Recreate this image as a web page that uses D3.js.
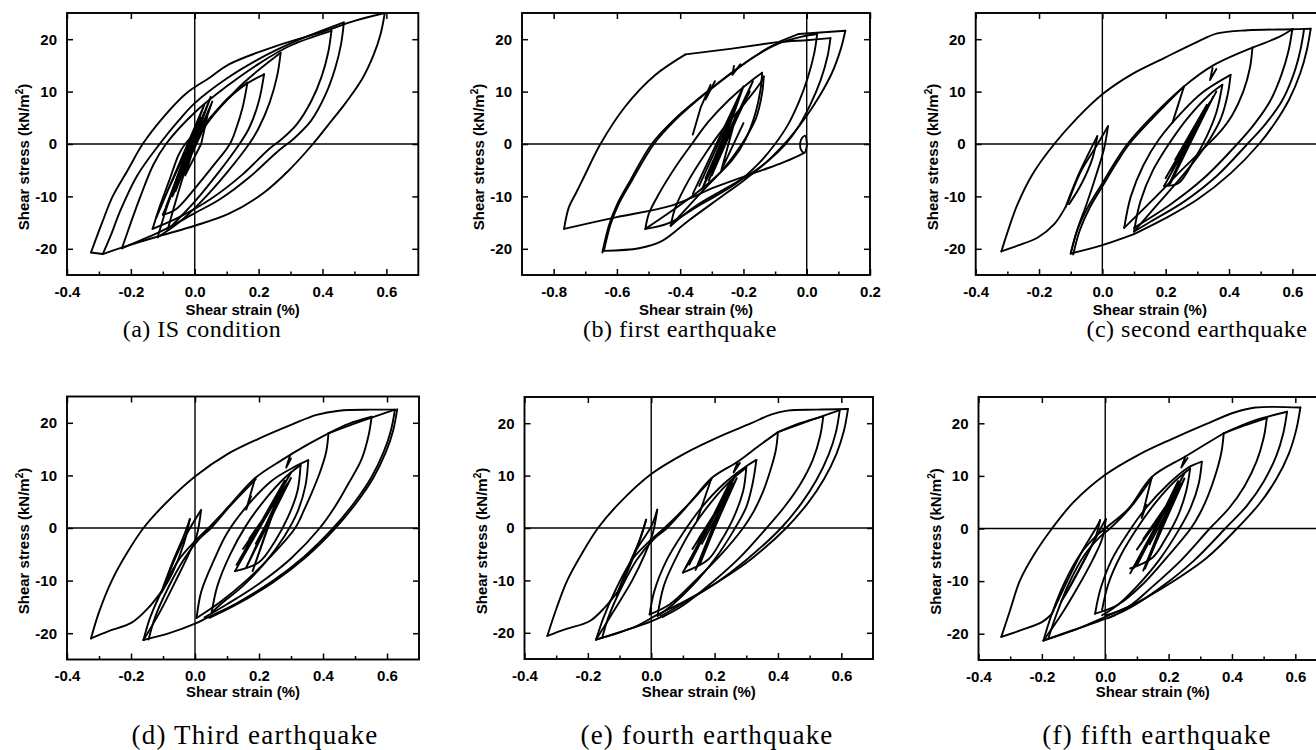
<!DOCTYPE html>
<html><head><meta charset="utf-8">
<script src="https://cdn.jsdelivr.net/npm/d3@7"></script>
<style>html,body{margin:0;padding:0;background:#fff}svg{display:block}</style>
</head><body>
<svg id="chart" width="1316" height="750"></svg>
<script>
// ---------- tick values & texts ----------
const xTicksStd = [-0.4, -0.2, 0, 0.2, 0.4, 0.6];
const xMinorStd = [-0.3, -0.1, 0.1, 0.3, 0.5];
const xTicksB = [-0.8, -0.6, -0.4, -0.2, 0, 0.2];
const xMinorB = [-0.7, -0.5, -0.3, -0.1, 0.1];
const yTicks = [-20, -10, 0, 10, 20];
const captions = ["(a) IS condition", "(b) first earthquake", "(c) second earthquake",
                  "(d) Third earthquake", "(e) fourth earthquake", "(f) fifth earthquake"];
const xLabel = "Shear strain (%)";
const yLabel = "Shear stress (kN/m";

// ---------- (a) IS condition : branches [strain %, stress kN/m2] ----------
const branchesA = [
 [[-0.325,-20.7],[-0.29,-15],[-0.257,-10],[-0.21,-5],[-0.163,0],[-0.1,5],[-0.028,9.6],[0.05,12.8],[0.107,15.2],[0.25,18.6],[0.41,21.6],[0.5,23.5],[0.595,25.0]],
 [[0.595,25.0],[0.582,21],[0.56,17],[0.525,12.5],[0.472,7.8],[0.42,3.8],[0.37,0],[0.295,-5],[0.212,-9.5],[0.107,-13.3],[0,-15.6],[-0.101,-17.4],[-0.205,-19.3],[-0.288,-21.0]],
 [[-0.288,-21.0],[-0.325,-20.7]],
 [[-0.288,-21.0],[-0.26,-17],[-0.235,-13],[-0.18,-6],[-0.11,0],[-0.05,4.5],[0,7.8],[0.1,12.5],[0.2,16.2],[0.3,19.2],[0.38,21.2],[0.467,23.2]],
 [[0.467,23.2],[0.458,19],[0.44,14.5],[0.41,9.5],[0.365,4.5],[0.31,1],[0.264,-1.2],[0.17,-6.4],[0.08,-10.5],[0,-13.2],[-0.1,-16.5],[-0.228,-19.9]],
 [[-0.228,-19.9],[-0.2,-15],[-0.17,-10],[-0.13,-4],[-0.09,0],[0,6],[0.1,11],[0.2,15.3],[0.3,18.8],[0.428,21.6]],
 [[0.428,21.6],[0.418,17.5],[0.398,13],[0.365,8.2],[0.32,3.8],[0.27,0.8],[0.232,-1],[0.15,-5.8],[0.05,-10.5],[-0.05,-14],[-0.132,-16.2]],
 [[-0.132,-16.2],[-0.11,-12],[-0.08,-7],[-0.05,-2],[-0.03,0],[0.05,5],[0.15,11.5],[0.269,17.4]],
 [[0.269,17.4],[0.258,13],[0.235,8],[0.2,3],[0.17,0],[0.1,-5.5],[0.02,-11],[-0.05,-15],[-0.116,-17.8]],
 [[-0.116,-17.8],[-0.095,-13.5],[-0.07,-9],[-0.04,-4],[0,1],[0.07,6.5],[0.15,11],[0.217,13.3]],
 [[0.217,13.3],[0.2,8],[0.17,3],[0.14,0],[0.08,-5],[0,-11],[-0.085,-16.4]],
 [[-0.085,-16.4],[-0.06,-11],[-0.03,-5],[0,0],[0.04,4],[0.1,8.5],[0.165,11.7]],
 [[0.165,11.7],[0.15,7],[0.13,3],[0.11,0],[0.06,-4],[0,-8.5],[-0.06,-12.5],[-0.1,-13.5]]
];
const zigsA = [
 [[-0.1,-13.5],[0.055,8.1],[0.02,2],[-0.07,-10],[0.03,6],[0.0,0],[-0.05,-7],[0.04,5.5],[0.02,0],[-0.03,-6],[0.02,4],[-0.02,-3],[0.01,2]],
 [[-0.12,-14],[0.03,7.5],[-0.09,-12],[0.05,9],[-0.06,-9],[0.02,5],[-0.1,-11],[0.0,3],[-0.04,-5],[0.035,6.5]]
];

// ---------- (b) first earthquake ----------
const branchesB = [
 [[0.0,0.3],[-0.005,1.6],[-0.018,0.8],[-0.02,-0.8],[-0.008,-1.7],[0.0,-0.5],[0.0,0.3]],
 [[-0.008,-1.7],[-0.025,-2.2],[-0.078,-3.6],[-0.141,-5.0],[-0.288,-8.2],[-0.425,-11.7],[-0.604,-14.0],[-0.767,-16.2]],
 [[-0.767,-16.2],[-0.752,-12.1],[-0.728,-9.2],[-0.705,-6.4],[-0.652,0],[-0.573,7.2],[-0.478,13.2],[-0.383,17.1]],
 [[0.122,21.6],[0.108,18.2],[0.08,13.6],[0.04,9.1],[0.0,5.4],[-0.04,2.2],[-0.08,-0.6],[-0.13,-3.6],[-0.2,-7],[-0.28,-10.5],[-0.373,-14.6],[-0.46,-18.6],[-0.53,-19.9],[-0.641,-20.4]],
 [[-0.641,-20.4],[-0.62,-15.3],[-0.594,-11.4],[-0.552,-6.9],[-0.483,0],[-0.415,4.6],[-0.331,9.1],[-0.236,13.6],[-0.162,16.8],[-0.088,19.2],[-0.015,20.5],[0.033,21.0]],
 [[-0.646,-20.7],[-0.625,-15.5],[-0.6,-11.6],[-0.558,-7],[-0.49,0],[-0.42,4.6],[-0.335,9.0],[-0.24,13.5],[-0.165,16.7],[-0.088,19.3],[0.0,19.8],[0.075,20.2]],
 [[0.033,21.0],[0.024,17.4],[0.004,12.8],[-0.025,8],[-0.06,3.6],[-0.1,0],[-0.15,-3.6],[-0.225,-7.6],[-0.331,-11.4],[-0.436,-15.1],[-0.51,-16.2]],
 [[0.075,20.2],[0.066,16.8],[0.044,12.2],[0.012,7.6],[-0.025,3.4],[-0.067,0],[-0.12,-3.1],[-0.183,-5.9],[-0.26,-8.6],[-0.35,-11.8],[-0.43,-15.6]],
 [[-0.51,-16.2],[-0.499,-13.3],[-0.467,-9.5],[-0.415,-4.4],[-0.362,0.1],[-0.31,4.3],[-0.246,8.4],[-0.183,11.7],[-0.141,13.6]],
 [[-0.141,13.6],[-0.146,10.4],[-0.162,5.9],[-0.194,0.8],[-0.236,-3.1],[-0.288,-6.3],[-0.352,-9.5],[-0.425,-12.7],[-0.51,-16.2]],
 [[-0.43,-15.6],[-0.415,-12.1],[-0.373,-6.9],[-0.32,-1.8],[-0.267,2.7],[-0.204,7.2],[-0.146,11.7],[-0.136,12.9]],
 [[-0.136,12.9],[-0.141,9.7],[-0.16,5],[-0.204,0.1],[-0.26,-4.5],[-0.33,-9],[-0.43,-15.6]]
];
const zigsB = [
 [[-0.383,17.1],[-0.236,18.2],[-0.088,19.5],[-0.025,21],[0.122,21.6]],
 [[-0.36,-9.5],[-0.2,11],[-0.3,-6],[-0.17,12],[-0.33,-8.5],[-0.24,5],[-0.29,-3],[-0.19,9],[-0.31,-7],[-0.22,6],[-0.27,-5],[-0.2,4]],
 [[-0.34,-8],[-0.22,8],[-0.3,-4.5],[-0.18,10],[-0.32,-6.5],[-0.25,3]],
 [[-0.36,1.8],[-0.335,7],[-0.304,11.3],[-0.32,8.5],[-0.29,12]],
 [[-0.23,14.9],[-0.235,13.2],[-0.21,15.2]]
];

// ---------- (c) second earthquake ----------
const branchesC = [
 [[-0.319,-20.5],[-0.295,-16],[-0.268,-11.5],[-0.221,-5.8],[-0.152,0],[-0.079,5.0],[0,9.5],[0.09,13.2],[0.195,16.4],[0.3,19.5],[0.363,21.1],[0.458,21.7],[0.6,21.9],[0.658,22.0]],
 [[-0.319,-20.5],[-0.268,-19.4],[-0.205,-17.9],[-0.152,-15.3],[-0.116,-12.0]],
 [[-0.116,-12.0],[-0.08,-6.5],[-0.045,-2],[-0.016,1.5]],
 [[-0.016,1.5],[-0.03,-2.5],[-0.065,-7.5],[-0.105,-11.5]],
 [[-0.11,-11.5],[-0.07,-5.5],[-0.02,-0.5],[0.018,3.4]],
 [[0.018,3.4],[0.005,-1],[-0.02,-6],[-0.05,-11.5],[-0.08,-16.5],[-0.1,-20.9]],
 [[-0.1,-20.9],[-0.08,-16.6],[-0.047,-12.2],[0,-7.5],[0.04,-3.5],[0.079,0],[0.153,5],[0.258,11],[0.35,15],[0.474,18.4]],
 [[-0.092,-21.1],[-0.072,-16.6],[-0.04,-12.2],[0.006,-7.5],[0.046,-3.5],[0.085,0],[0.16,5],[0.258,11]],
 [[0.474,18.4],[0.56,20.5],[0.6,21.9]],
 [[0.658,22],[0.646,18],[0.625,13.5],[0.59,8.5],[0.545,4],[0.495,0],[0.405,-5.6],[0.3,-10.6],[0.195,-14.3],[0.1,-17.2]],
 [[0.637,21.9],[0.625,17.8],[0.604,13.3],[0.567,8.2],[0.515,3.8],[0.458,0],[0.363,-6],[0.258,-11],[0.153,-14.8],[0.1,-16.7]],
 [[0.6,21.9],[0.588,17.8],[0.566,13.3],[0.53,8.2],[0.48,3.8],[0.426,0],[0.321,-6.5],[0.216,-11.5],[0.1,-16]],
 [[-0.1,-20.9],[0,-19.3],[0.1,-17.2]],
 [[0.474,18.4],[0.466,14.5],[0.445,10],[0.41,5.5],[0.37,2.2],[0.321,-0.8],[0.25,-5],[0.17,-10],[0.069,-16]],
 [[0.069,-16],[0.09,-10],[0.13,-4],[0.18,1],[0.25,6],[0.32,10],[0.405,13.2]],
 [[0.405,13.2],[0.396,9.5],[0.375,5],[0.345,1.5],[0.3,-2.5],[0.24,-7],[0.17,-11.8],[0.1,-16.7]],
 [[0.1,-16.7],[0.12,-11],[0.16,-5],[0.21,0],[0.27,5],[0.34,9.5],[0.379,11.3]],
 [[0.379,11.3],[0.36,6],[0.33,1.5],[0.29,-3],[0.24,-7.5],[0.195,-8]]
];
const zigsC = [
 [[0.195,-8],[0.36,10],[0.22,-5],[0.34,8],[0.21,-7.8],[0.3,4],[0.23,-3],[0.33,7.5],[0.25,-1],[0.3,3.5]],
 [[0.2,-6.5],[0.32,6],[0.215,-7.5],[0.35,9],[0.24,-4]],
 [[0.258,11.0],[0.221,4.0],[0.24,7.5]],
 [[0.348,14.5],[0.34,12.2],[0.36,14.3]]
];

// ---------- (d) Third earthquake ----------
const branchesD = [
 [[-0.325,-21.0],[-0.3,-16],[-0.26,-10],[-0.215,-5],[-0.161,0],[-0.09,4.8],[0,9.8],[0.1,14],[0.2,17],[0.3,19.6],[0.38,21.5],[0.45,22.3],[0.55,22.5],[0.625,22.5]],
 [[-0.325,-21.0],[-0.27,-19.6],[-0.198,-18.0],[-0.146,-15.2],[-0.104,-12.0]],
 [[-0.104,-12.0],[-0.07,-6.5],[-0.035,-1.5],[-0.016,1.7]],
 [[-0.016,1.7],[-0.035,-3],[-0.07,-8.5],[-0.105,-12.3]],
 [[-0.1,-11.5],[-0.06,-5.5],[-0.02,-0.5],[0.019,3.4]],
 [[0.019,3.4],[0.005,-1.5],[-0.02,-5],[-0.06,-10],[-0.11,-16],[-0.161,-21.3]],
 [[-0.161,-21.3],[-0.14,-17],[-0.1,-11.5],[-0.05,-6],[0,-2.5],[0.042,0],[0.104,4.0],[0.188,9.5],[0.271,12.9],[0.35,15.8],[0.417,18.0]],
 [[-0.145,-21.2],[-0.125,-17],[-0.085,-11.5],[-0.035,-6],[0.01,-2.3],[0.05,0],[0.11,4.2],[0.19,9.3]],
 [[0.417,18.0],[0.52,20.3],[0.625,22.5]],
 [[0.417,18.0],[0.48,19.8],[0.552,21.15]],
 [[0.625,22.5],[0.612,18.5],[0.59,14.5],[0.55,9.5],[0.5,5],[0.432,0],[0.34,-5.5],[0.24,-10.2],[0.13,-14.3],[0.04,-17],[0,-18.2],[-0.08,-20],[-0.161,-21.3]],
 [[0.632,22.6],[0.619,18.5],[0.597,14.5],[0.557,9.5],[0.507,5],[0.439,0],[0.347,-5.5],[0.247,-10.2],[0.137,-14.3],[0.045,-17.1]],
 [[0.552,21.15],[0.542,17.5],[0.52,13],[0.48,8.5],[0.44,4.3],[0.39,0],[0.3,-5.8],[0.2,-10.6],[0.1,-14.5],[0.03,-17]],
 [[0.417,18],[0.41,14.5],[0.39,10.5],[0.36,6],[0.34,3.3],[0.313,0],[0.24,-5.2],[0.16,-10],[0.08,-14],[0.005,-17.1]],
 [[0.005,-17.1],[0.02,-12],[0.06,-6],[0.1,-1],[0.16,4],[0.24,9],[0.307,11.5],[0.354,12.9]],
 [[0.354,12.9],[0.345,8],[0.32,3],[0.28,-1.5],[0.22,-6.5],[0.15,-11],[0.08,-14.5],[0.052,-16.1]],
 [[0.052,-16.1],[0.07,-11],[0.11,-5],[0.16,0.5],[0.22,5.5],[0.28,9.5],[0.33,12]],
 [[0.33,12],[0.32,7],[0.29,2],[0.25,-2.5],[0.2,-6.5],[0.125,-8.2]]
];
const zigsD = [
 [[0.125,-8.2],[0.3,10.5],[0.14,-6],[0.28,9],[0.18,-8.2],[0.26,6],[0.15,-4],[0.29,8.5],[0.17,-2],[0.24,4]],
 [[0.13,-7],[0.27,7],[0.16,-7.5],[0.3,9.5],[0.19,-3]],
 [[0.188,9.5],[0.16,3.5],[0.175,6]],
 [[0.297,13.8],[0.285,11.5],[0.3,13.2]]
];

// ---------- (e) fourth earthquake ----------
const branchesE = [
 [[-0.328,-20.6],[-0.3,-15.5],[-0.265,-10],[-0.22,-5],[-0.168,0],[-0.1,4.8],[0,10.3],[0.105,14.2],[0.21,17.3],[0.316,20],[0.38,21.7],[0.43,22.4],[0.52,22.6],[0.621,22.7]],
 [[-0.328,-20.6],[-0.27,-19.3],[-0.195,-17.8],[-0.147,-15.2],[-0.105,-12.1]],
 [[-0.105,-12.1],[-0.07,-7],[-0.035,-2],[-0.016,1.6]],
 [[-0.016,1.6],[-0.04,-3],[-0.08,-9],[-0.11,-12.8]],
 [[-0.1,-11.5],[-0.05,-4.5],[0.0,0.3],[0.019,3.5]],
 [[0.019,3.5],[0.005,-1],[-0.02,-5],[-0.06,-10],[-0.12,-16],[-0.174,-21.3]],
 [[-0.174,-21.3],[-0.15,-17],[-0.11,-11.5],[-0.06,-6],[0,-2.2],[0.042,0],[0.126,5.1],[0.19,9.5],[0.274,12.7],[0.34,15.7],[0.4,18.3]],
 [[-0.155,-21.0],[-0.135,-17],[-0.095,-11.5],[-0.045,-6],[0.01,-2],[0.05,0],[0.13,5.3],[0.19,9.3]],
 [[0.4,18.3],[0.5,20.5],[0.595,22.5]],
 [[0.621,22.7],[0.608,18.5],[0.585,14.2],[0.545,9.3],[0.495,4.8],[0.426,0],[0.316,-5.9],[0.21,-10.3],[0.105,-14],[0.021,-16.5],[-0.05,-18.8],[-0.174,-21.3]],
 [[0.595,22.5],[0.583,18.3],[0.56,14],[0.522,9.2],[0.474,4.7],[0.41,0],[0.3,-6.1],[0.2,-10.7],[0.1,-14.4],[0.03,-16.8]],
 [[0.4,18.3],[0.47,20],[0.543,21.3]],
 [[0.543,21.3],[0.533,17.5],[0.51,13],[0.47,8.3],[0.42,4],[0.364,0],[0.28,-5.6],[0.19,-10.5],[0.1,-14.8],[0.035,-17]],
 [[-0.174,-21.3],[-0.08,-19.5],[0,-17.8],[0.03,-17]],
 [[0.4,18.3],[0.393,14.8],[0.375,10.8],[0.35,6.5],[0.322,3],[0.29,0],[0.22,-5.1],[0.14,-10],[0.06,-14.5],[-0.005,-16.5]],
 [[-0.005,-16.5],[0.01,-12],[0.05,-6],[0.1,-1],[0.16,4],[0.23,8.5],[0.3,11.8],[0.332,13]],
 [[0.332,13],[0.32,8.5],[0.3,4],[0.26,-0.5],[0.2,-6],[0.13,-11],[0.07,-14.5],[0.02,-16.8]],
 [[0.02,-16.8],[0.04,-11],[0.08,-5.5],[0.13,0],[0.19,5],[0.25,9],[0.3,11.5]],
 [[0.3,11.5],[0.29,7],[0.26,2],[0.22,-2.5],[0.18,-6],[0.1,-8.5]]
];
const zigsE = [
 [[0.1,-8.5],[0.27,10.5],[0.12,-7],[0.25,9],[0.153,-7],[0.24,6],[0.13,-4],[0.26,8.5],[0.15,-2],[0.22,4]],
 [[0.11,-7.5],[0.24,7],[0.14,-8],[0.27,9.5],[0.16,-3]],
 [[0.19,9.5],[0.145,1.5],[0.165,5]],
 [[0.274,12.7],[0.26,10.6],[0.28,12.4]]
];

// ---------- (f) fifth earthquake ----------
const branchesF = [
 [[-0.328,-20.6],[-0.3,-15.5],[-0.27,-10],[-0.225,-5],[-0.168,0],[-0.1,5],[0,10.2],[0.105,14],[0.21,17],[0.316,19.8],[0.41,22.1],[0.474,23.0],[0.616,23.0]],
 [[-0.328,-20.6],[-0.27,-19.4],[-0.2,-17.8],[-0.168,-16.2]],
 [[-0.168,-16.2],[-0.12,-10],[-0.07,-4],[-0.03,0],[-0.016,1.6]],
 [[-0.016,1.6],[-0.03,-1.5],[-0.07,-6.5],[-0.11,-11],[-0.14,-14]],
 [[-0.13,-13],[-0.08,-7.5],[-0.04,-3],[-0.01,0.5],[0.002,1.8]],
 [[0.002,1.8],[-0.01,-2],[-0.04,-6],[-0.09,-11.5],[-0.14,-16.5],[-0.195,-21.3]],
 [[-0.195,-21.3],[-0.17,-16.5],[-0.13,-10.5],[-0.08,-5],[-0.03,-1.5],[0,0],[0.074,3.8],[0.147,9.8],[0.253,13.7],[0.374,18.1]],
 [[-0.18,-21.0],[-0.155,-16.5],[-0.115,-10.5],[-0.065,-5],[-0.015,-1.5],[0.015,0],[0.08,4],[0.147,9.6]],
 [[0.374,18.1],[0.47,20.5],[0.574,22.2]],
 [[0.374,18.1],[0.44,19.6],[0.51,21]],
 [[0.616,23],[0.603,18.8],[0.58,14.3],[0.54,9.4],[0.488,4.8],[0.416,0],[0.32,-5.6],[0.2,-10.6],[0.1,-14.1],[0,-16.8],[-0.08,-18.9],[-0.195,-21.3]],
 [[0.574,22.2],[0.562,18.1],[0.54,13.8],[0.5,8.9],[0.448,4.4],[0.379,0],[0.28,-6.1],[0.18,-11],[0.08,-15],[0.01,-17]],
 [[0.51,21],[0.5,17.2],[0.478,12.8],[0.44,8.1],[0.39,3.8],[0.33,0],[0.24,-6],[0.15,-11],[0.07,-15],[0,-16.5]],
 [[-0.195,-21.3],[-0.1,-19.3],[0,-17.2],[0.03,-16.5]],
 [[0.374,18.1],[0.367,14.6],[0.35,10.6],[0.325,6.3],[0.3,3],[0.27,0],[0.2,-5.1],[0.12,-10.5],[0.04,-14.5],[-0.032,-16.2]],
 [[-0.032,-16.2],[-0.015,-11.5],[0.02,-6],[0.07,-1],[0.13,4],[0.2,8.5],[0.26,11.5],[0.305,12.7]],
 [[0.305,12.7],[0.295,8.5],[0.27,4],[0.23,-0.5],[0.17,-6],[0.1,-11],[0.04,-14.5],[-0.01,-16.5]],
 [[-0.01,-15.5],[0.01,-10.5],[0.05,-5],[0.1,0],[0.16,5],[0.22,9],[0.268,11.4]],
 [[0.268,11.4],[0.255,7],[0.23,2.5],[0.19,-2],[0.15,-5.5],[0.079,-7.6]]
];
const zigsF = [
 [[0.079,-8.5],[0.25,10.5],[0.1,-7],[0.23,9],[0.126,-7.6],[0.22,6],[0.1,-4],[0.24,8.5],[0.12,-2],[0.2,4]],
 [[0.09,-7.5],[0.22,7],[0.12,-8],[0.25,9.5],[0.14,-3]],
 [[0.147,9.8],[0.115,2],[0.13,4.5]],
 [[0.253,13.7],[0.24,11.6],[0.26,13.4]]
];

// ---------- layout ----------
const panels = [
 {left:67,    right:418.3, top:13,    bottom:275,   xDom:[-0.4,0.7], xt:xTicksStd, xm:xMinorStd, br:branchesA, zz:zigsA, cap:captions[0], capX:202,  capY:337, capF:24, lblY:315},
 {left:522,   right:870,   top:13,    bottom:275,   xDom:[-0.9,0.2], xt:xTicksB,   xm:xMinorB,   br:branchesB, zz:zigsB, cap:captions[1], capX:680,  capY:337, capF:24, lblY:315},
 {left:975.7, right:1324,  top:13,    bottom:275,   xDom:[-0.4,0.7], xt:xTicksStd, xm:xMinorStd, br:branchesC, zz:zigsC, cap:captions[2], capX:1197, capY:337, capF:24, lblY:315},
 {left:67,    right:419,   top:396.5, bottom:659.5, xDom:[-0.4,0.7], xt:xTicksStd, xm:xMinorStd, br:branchesD, zz:zigsD, cap:captions[3], capX:255,  capY:744, capF:27, lblY:697},
 {left:524.5, right:873,   top:397,   bottom:659,   xDom:[-0.4,0.7], xt:xTicksStd, xm:xMinorStd, br:branchesE, zz:zigsE, cap:captions[4], capX:707,  capY:744, capF:27, lblY:697},
 {left:978.5, right:1327,  top:397,   bottom:660,   xDom:[-0.4,0.7], xt:xTicksStd, xm:xMinorStd, br:branchesF, zz:zigsF, cap:captions[5], capX:1157, capY:744, capF:27, lblY:697}
];

const svg = d3.select('#chart');
const sans = '"Liberation Sans", Arial, Helvetica, sans-serif';
const serif = '"Liberation Serif", "Times New Roman", Times, serif';
const defs = svg.append('defs');

panels.forEach((p, i) => {
  const x = d3.scaleLinear().domain(p.xDom).range([p.left, p.right]);
  const y = d3.scaleLinear().domain([-25, 25]).range([p.bottom, p.top]);
  const g = svg.append('g');

  defs.append('clipPath').attr('id', 'clip' + i).append('rect')
    .attr('x', p.left).attr('y', p.top).attr('width', p.right - p.left).attr('height', p.bottom - p.top);
  const plot = g.append('g').attr('clip-path', `url(#clip${i})`);

  plot.append('line').attr('x1', x(0)).attr('x2', x(0)).attr('y1', p.top).attr('y2', p.bottom)
    .attr('stroke', '#000').attr('stroke-width', 1.4);
  plot.append('line').attr('x1', p.left).attr('x2', p.right).attr('y1', y(0)).attr('y2', y(0))
    .attr('stroke', '#000').attr('stroke-width', 1.4);

  const smooth = d3.line().x(d => x(d[0])).y(d => y(d[1])).curve(d3.curveCatmullRom.alpha(0.5));
  const straight = d3.line().x(d => x(d[0])).y(d => y(d[1]));
  plot.selectAll('path.br').data(p.br).join('path').attr('class', 'br')
    .attr('d', smooth).attr('fill', 'none').attr('stroke', '#000')
    .attr('stroke-width', 1.9).attr('stroke-linejoin', 'round').attr('stroke-linecap', 'round');
  plot.selectAll('path.zz').data(p.zz).join('path').attr('class', 'zz')
    .attr('d', straight).attr('fill', 'none').attr('stroke', '#000')
    .attr('stroke-width', 1.9).attr('stroke-linejoin', 'round').attr('stroke-linecap', 'round');

  const styleAxis = s => {
    s.select('.domain').remove();
    s.attr('font-family', sans).attr('font-size', 15).attr('font-weight', 'bold');
    s.selectAll('line').attr('stroke', '#000').attr('stroke-width', 1.5);
    s.selectAll('text').attr('fill', '#000');
  };
  g.append('g').attr('transform', `translate(0,${p.bottom})`)
    .call(d3.axisBottom(x).tickValues(p.xt).tickSizeInner(-6).tickSizeOuter(0).tickPadding(11).tickFormat(d => d.toFixed(1)))
    .call(styleAxis);
  g.append('g').attr('transform', `translate(0,${p.bottom})`)
    .call(d3.axisBottom(x).tickValues(p.xm).tickSizeInner(-3.5).tickSizeOuter(0).tickFormat(''))
    .call(styleAxis);
  g.append('g').attr('transform', `translate(0,${p.top})`)
    .call(d3.axisTop(x).tickValues(p.xt).tickSizeInner(-6).tickSizeOuter(0).tickFormat(''))
    .call(styleAxis);
  g.append('g').attr('transform', `translate(${p.left},0)`)
    .call(d3.axisLeft(y).tickValues(yTicks).tickSizeInner(-6).tickSizeOuter(0).tickPadding(10).tickFormat(d => String(d)))
    .call(styleAxis);
  g.append('g').attr('transform', `translate(${p.right},0)`)
    .call(d3.axisRight(y).tickValues(yTicks).tickSizeInner(-6).tickSizeOuter(0).tickFormat(''))
    .call(styleAxis);

  g.append('rect').attr('x', p.left).attr('y', p.top).attr('width', p.right - p.left).attr('height', p.bottom - p.top)
    .attr('fill', 'none').attr('stroke', '#000').attr('stroke-width', 1.9);

  g.append('text').attr('x', (p.left + p.right) / 2).attr('y', p.lblY)
    .attr('text-anchor', 'middle').attr('font-family', sans).attr('font-size', 15).attr('font-weight', 'bold')
    .text(xLabel);
  const cy = (p.top + p.bottom) / 2 + 13;
  const yl = g.append('text').attr('transform', `translate(${p.left - 38},${cy}) rotate(-90)`)
    .attr('text-anchor', 'middle').attr('font-family', sans).attr('font-size', 15).attr('font-weight', 'bold');
  yl.append('tspan').text(yLabel);
  yl.append('tspan').attr('font-size', 10).attr('dy', -6).text('2');
  yl.append('tspan').attr('dy', 6).text(')');

  g.append('text').attr('x', p.capX).attr('y', p.capY).attr('text-anchor', 'middle')
    .attr('font-family', serif).attr('font-size', p.capF).attr('letter-spacing', p.capF > 25 ? 1.2 : 0.5)
    .text(p.cap);
});
</script>
</body></html>
